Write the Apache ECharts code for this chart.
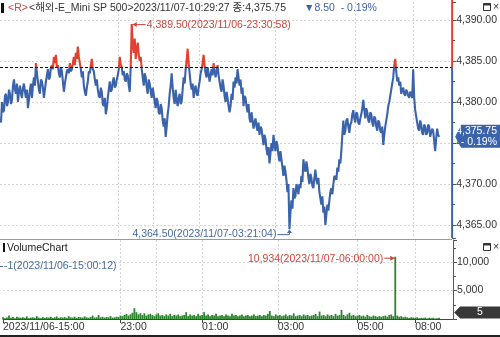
<!DOCTYPE html>
<html><head><meta charset="utf-8">
<script src="https://cdn.jsdelivr.net/npm/echarts@6/dist/echarts.min.js"></script>
<style>html,body{margin:0;padding:0;background:#fff}#c{width:500px;height:337px}</style>
</head><body><div id="c"></div>
<script>
// ---- data (price read per pixel column, alternating band top/bottom) ----
const prices = [
4378.0,4377.5,4380.0,4378.75,4379.0,4380.75,4381.0,4379.5,4380.0,4381.5,4381.0,4379.75,4380.25,4382.0,4382.75,4381.5,4381.0,4382.25,4380.0,4381.25,
4382.0,4381.0,4380.5,4381.75,4382.25,4381.25,4380.5,4381.5,4379.25,4380.25,4381.5,4382.25,4380.5,4382.0,4383.0,4382.0,4384.75,4383.5,4382.5,4381.5,
4381.0,4382.75,4382.5,4381.75,4380.5,4381.5,4382.5,4383.25,4384.0,4382.75,4383.0,4384.25,4384.5,4384.0,4385.5,4384.75,4385.75,4384.25,4384.5,4383.5,
4383.0,4384.25,4383.75,4382.5,4381.25,4382.25,4383.0,4383.75,4384.0,4383.5,4384.75,4383.75,4384.0,4384.75,4385.5,4384.5,4386.0,4385.25,4386.75,4385.5,
4384.75,4384.0,4383.0,4383.75,4382.0,4381.25,4380.75,4381.75,4382.5,4383.75,4383.5,4384.5,4385.25,4384.0,4383.75,4382.75,4382.0,4382.75,4381.5,4380.75,
4380.5,4381.75,4381.25,4379.75,4379.5,4380.5,4378.5,4379.25,4380.5,4381.5,4382.5,4381.25,4381.5,4382.5,4383.0,4381.75,4382.0,4382.75,4383.25,4384.0,
4385.5,4384.5,4384.25,4383.25,4383.75,4382.75,4382.5,4383.5,4383.25,4382.0,4381.25,4384.5,4389.5,4387.0,4386.0,4387.75,4385.25,4386.5,4387.25,4385.75,
4385.0,4385.5,4384.0,4383.0,4382.0,4383.5,4383.0,4381.75,4381.0,4382.75,4382.25,4381.25,4380.5,4381.75,4381.0,4380.0,4379.25,4380.5,4380.0,4378.75,
4378.5,4379.75,4379.25,4377.75,4377.0,4378.0,4375.75,4377.0,4378.5,4379.5,4381.0,4382.0,4383.5,4381.75,4380.5,4379.75,4381.5,4380.25,4379.5,4380.5,
4381.0,4379.75,4380.0,4381.5,4383.0,4382.25,4384.0,4385.0,4386.5,4384.75,4383.5,4382.25,4381.5,4382.25,4380.5,4381.5,4382.0,4381.0,4380.75,4381.75,
4382.5,4383.5,4384.0,4384.75,4385.75,4384.5,4383.5,4383.0,4384.25,4383.5,4382.5,4383.25,4384.0,4383.25,4384.75,4383.75,4383.0,4383.75,4384.5,4383.25,
4382.5,4381.75,4381.25,4382.75,4382.0,4380.75,4380.0,4381.25,4380.5,4379.5,4378.75,4379.5,4381.0,4380.25,4382.5,4381.75,4383.0,4382.25,4384.0,4383.0,
4382.0,4382.75,4381.0,4381.75,4379.5,4380.75,4380.5,4379.5,4378.75,4379.75,4378.0,4377.5,4378.75,4377.75,4376.75,4377.5,4378.0,4377.0,4376.5,4377.5,
4376.0,4377.0,4376.75,4375.75,4374.75,4376.0,4375.5,4374.25,4373.5,4374.5,4372.5,4373.75,4375.0,4374.0,4376.0,4374.75,4374.0,4375.25,4374.75,4373.5,
4372.75,4374.0,4373.0,4372.0,4371.0,4372.25,4371.5,4370.5,4369.0,4370.0,4364.5,4366.5,4368.0,4367.0,4369.5,4368.25,4368.5,4370.0,4369.5,4368.75,
4370.0,4369.5,4371.0,4370.25,4373.0,4372.0,4371.5,4372.75,4372.0,4370.75,4370.0,4371.25,4370.75,4369.75,4369.5,4370.75,4371.75,4370.5,4370.0,4370.75,
4369.0,4368.25,4367.5,4368.5,4366.5,4367.25,4365.0,4366.25,4367.5,4366.75,4368.0,4369.0,4369.5,4368.75,4370.0,4371.0,4371.0,4370.5,4372.0,4371.5,
4373.0,4372.5,4374.0,4376.0,4377.75,4376.0,4376.5,4377.75,4378.0,4377.0,4376.25,4377.25,4377.5,4378.5,4379.0,4378.0,4377.5,4378.75,4378.5,4377.5,
4377.25,4378.0,4378.5,4379.25,4380.25,4379.0,4378.0,4379.25,4378.75,4377.75,4377.5,4378.75,4378.5,4377.5,4377.0,4378.25,4378.0,4377.0,4376.5,4377.75,
4377.5,4376.5,4376.25,4377.0,4374.75,4376.0,4377.0,4377.75,4378.5,4379.5,4380.0,4380.75,4381.5,4382.25,4383.0,4384.5,4385.25,4383.75,4382.5,4383.0,
4382.0,4382.5,4381.0,4381.5,4381.75,4381.0,4380.75,4381.5,4381.25,4380.75,4380.5,4381.25,4381.0,4380.5,4384.0,4380.5,4379.0,4378.25,4377.5,4376.75,
4376.5,4377.75,4377.25,4376.25,4376.0,4377.25,4377.0,4376.0,4376.25,4377.25,4377.0,4375.75,4375.75,4376.75,4376.5,4375.25,4374.0,4375.5,4376.75,4376.0,
4375.75
];
const volumes = [
300,150,250,600,200,350,150,400,250,200,
300,200,450,150,250,300,200,500,250,150,
350,200,300,250,400,200,300,450,200,300,
250,350,200,500,300,250,400,200,350,300,
250,450,300,200,350,600,250,300,700,300,
400,250,350,300,500,250,300,400,350,600,
500,700,900,600,800,1100,1900,1200,800,1000,
700,1000,600,800,900,700,500,800,1000,600,
700,500,800,600,900,500,700,600,800,500,
600,700,1200,500,800,600,700,500,900,600,
700,1200,600,800,500,700,600,900,500,600,
700,500,800,600,500,900,600,700,500,600,
800,500,600,700,500,600,800,500,600,700,
500,700,600,900,1400,600,500,800,600,700,
500,600,800,500,700,600,1000,500,600,700,
500,800,600,700,500,600,700,900,500,1300,
600,700,500,800,600,700,500,900,600,700,
1600,700,500,800,1100,600,700,500,600,700,
500,600,400,700,500,400,600,500,400,500,
400,500,600,400,700,800,500,10934,600,400,
500,300,400,300,200,300,250,200,300,150,
200,150,250,100,200,150,200,100,150,200,5
];
const refPrice = 4384.25;
const lastPrice = 4375.75;
const lastChangePct = '- 0.19%';
const lastVolume = 5;
const priceMin = 4363.415, priceMax = 4392.195;
const volMax = 13860;
// volume axis slots (2 px each); price axis uses 2 slots per volume slot
const tickIndex = [0, 59, 100, 138, 178, 207];
const tickText = ['2023/11/06-15:00', '23:00', '01:00', '03:00', '05:00', '08:00'];
const vGridIndex = [59, 77, 100, 138, 178, 207];
const titleCode = '<R>';
const titleMain = '<해외-E_Mini SP 500>2023/11/07-10:29:27 종:4,375.75';
const titleChange = '▼8.50  - 0.19%';
const maxText = '4,389.50(2023/11/06-23:30:58)';
const minText = '4,364.50(2023/11/07-03:21:04)';
const volMaxText = '10,934(2023/11/07-06:00:00)';
const volMinText = '-1(2023/11/06-15:00:12)';
const NV = 227, NP = 454;
const volCategories = Array.from({length: NV}, (_, i) => String(i));
const priceCategories = Array.from({length: NP}, (_, i) => String(i));

// ---- style ----
const FONT = '"Liberation Sans", "Noto Sans CJK KR", sans-serif';
const FS = 10.5;
const RED = '#e2412f', BLUE = '#3b63ac', GREEN = '#2a862a', GRID = '#d6d6d6';
const fmtP = v => v.toLocaleString('en-US', {minimumFractionDigits: 2, maximumFractionDigits: 2});
const fmtV = v => v.toLocaleString('en-US');

const chart = echarts.init(document.getElementById('c'), null, {renderer: 'canvas'});
chart.setOption({
  animation: false,
  grid: [
    {left: 0, right: 47, top: 2, height: 236},
    {left: 0, right: 47, top: 240, height: 79}
  ],
  xAxis: [
    {gridIndex: 0, type: 'category', data: priceCategories, boundaryGap: false,
     axisLine: {show: false}, axisTick: {show: false}, axisLabel: {show: false},
     splitLine: {show: true, interval: (i) => i % 2 === 0 && vGridIndex.includes(i / 2), lineStyle: {color: GRID, type: [2, 2]}}},
    {gridIndex: 1, type: 'category', data: volCategories, boundaryGap: false,
     axisLine: {lineStyle: {color: '#444'}},
     axisTick: {show: true, interval: (i) => tickIndex.includes(i), length: 4, lineStyle: {color: '#444'}},
     axisLabel: {interval: (i) => tickIndex.includes(i), formatter: (v, i) => tickText[tickIndex.indexOf(i)] || '',
       align: 'left', color: '#333', fontSize: FS, fontFamily: FONT, margin: 3},
     splitLine: {show: true, interval: (i) => vGridIndex.includes(i), lineStyle: {color: GRID, type: [2, 2]}}}
  ],
  yAxis: [
    {gridIndex: 0, type: 'value', position: 'right', min: priceMin, max: priceMax, minInterval: 5, maxInterval: 5,
     axisLine: {show: false},
     axisTick: {show: true, length: 4, lineStyle: {color: '#555'}},
     minorTick: {show: true, splitNumber: 2, length: 3, lineStyle: {color: '#555'}},
     axisLabel: {showMinLabel: false, showMaxLabel: false, formatter: fmtP, color: '#333', fontSize: FS, fontFamily: FONT, margin: 4},
     splitLine: {show: true, showMinLine: false, showMaxLine: false, lineStyle: {color: GRID, type: [2, 2]}}},
    {gridIndex: 1, type: 'value', position: 'right', min: 0, max: volMax, minInterval: 5000, maxInterval: 5000,
     axisLine: {show: true, lineStyle: {color: '#555'}},
     axisTick: {show: true, length: 4, lineStyle: {color: '#555'}},
     minorTick: {show: true, splitNumber: 2, length: 3, lineStyle: {color: '#555'}},
     axisLabel: {showMinLabel: false, showMaxLabel: false, formatter: fmtV, color: '#333', fontSize: FS, fontFamily: FONT, margin: 4},
     splitLine: {show: true, showMinLine: false, showMaxLine: false, lineStyle: {color: GRID, type: [2, 2]}}}
  ],
  series: [
    {type: 'line', xAxisIndex: 0, yAxisIndex: 0, data: prices, symbol: 'none', showSymbol: false,
     lineStyle: {width: 2.1, color: BLUE},
     markLine: {silent: true, symbol: 'none', label: {show: false},
       lineStyle: {color: '#111', type: [3, 2], width: 1}, data: [{yAxis: refPrice}]}},
    {type: 'bar', xAxisIndex: 1, yAxisIndex: 1, data: volumes, barWidth: 1.8, itemStyle: {color: GREEN}}
  ]
});

// ---- annotations via the chart's own scales ----
const px = (g, x, y) => chart.convertToPixel({gridIndex: g}, [x, y]);
const txt = (text, x, y, fill, align) => ({type: 'text', silent: true, z: 100, style: {
  text, x, y, fill, font: FS + 'px ' + FONT, textAlign: align || 'left', align: align || 'left',
  textVerticalAlign: 'middle', verticalAlign: 'middle'}});

const iMax = prices.indexOf(Math.max(...prices));
const iMin = prices.indexOf(Math.min(...prices));
const iVMax = volumes.indexOf(Math.max(...volumes));
const pMax = px(0, iMax, prices[iMax]);
const pMin = px(0, iMin, prices[iMin]);
const pV = px(1, iVMax, volumes[iVMax]);
const pTop = px(0, NP - 1, priceMax);
const pRef = px(0, NP - 1, refPrice);
const pBot = px(0, NP - 1, priceMin);
const pLast = px(0, NP - 1, lastPrice);
const pVLast = px(1, NV - 1, lastVolume);
const axX = pTop[0];
const MIN_COL = '#4a6aa3';

// line colour: red above reference price, blue below (global gradient at the ref pixel)
const fRef = (pRef[1] - pTop[1]) / (pBot[1] - pTop[1]);
const lineGrad = new echarts.graphic.LinearGradient(0, pTop[1], 0, pBot[1], [
  {offset: 0, color: RED}, {offset: fRef, color: RED},
  {offset: fRef, color: BLUE}, {offset: 1, color: BLUE}], true);
chart.setOption({series: [{lineStyle: {color: lineGrad}}]});

const g = [];
const shape = (type, shp, style) => ({type, silent: true, z: 100, shape: shp, style});
// title
g.push(shape('rect', {x: 1, y: 3, width: 3, height: 10}, {fill: '#111'}));
g.push(txt(titleCode, 8, 8, '#d0463c'));
g.push(txt(titleMain, 29, 8, '#333'));
g.push(txt(titleChange, 304, 8, '#4262a8'));
// window buttons
[3, 243].forEach(yy => {
  g.push(shape('rect', {x: 483.5, y: yy + 0.5, width: 7, height: 7}, {fill: '#fff', stroke: '#333', lineWidth: 1}));
  g.push(shape('rect', {x: 483.5, y: yy + 0.5, width: 7, height: 2}, {fill: '#333'}));
  g.push(txt('×', 496, yy + 4, '#333', 'center'));
});
// price axis line red above ref, blue below
g.push(shape('line', {x1: axX, y1: 0, x2: axX, y2: pRef[1]}, {stroke: RED, lineWidth: 2}));
g.push(shape('line', {x1: axX, y1: pRef[1], x2: axX, y2: pBot[1]}, {stroke: BLUE, lineWidth: 2}));
// panel separator and bottom border
g.push(shape('line', {x1: 0, y1: 239.5, x2: axX, y2: 239.5}, {stroke: '#9a9a9a', lineWidth: 1}));
g.push(shape('rect', {x: 0, y: 335, width: 500, height: 2}, {fill: '#222'}));
// max annotation
g.push(shape('line', {x1: pMax[0] + 1, y1: pMax[1] + 0.5, x2: pMax[0] + 14, y2: pMax[1] + 0.5}, {stroke: '#d0463c', lineWidth: 1}));
g.push(shape('polygon', {points: [[pMax[0] + 1, pMax[1] + 0.5], [pMax[0] + 5, pMax[1] - 2], [pMax[0] + 5, pMax[1] + 3]]}, {fill: '#d0463c'}));
g.push(txt(maxText, pMax[0] + 15, pMax[1] + 1, '#d0463c'));
// min annotation
const my = pMin[1] + 5.5;
g.push(shape('polyline', {points: [[pMin[0] - 12, my], [pMin[0], my], [pMin[0], pMin[1] + 1]]}, {stroke: MIN_COL, lineWidth: 1, fill: null}));
g.push(shape('polygon', {points: [[pMin[0], pMin[1] + 0.5], [pMin[0] - 2.5, pMin[1] + 4], [pMin[0] + 2.5, pMin[1] + 4]]}, {fill: MIN_COL}));
g.push(txt(minText, pMin[0] - 13, my, MIN_COL, 'right'));
// volume max annotation
g.push(shape('line', {x1: pV[0] - 11, y1: pV[1] + 1.5, x2: pV[0] - 1, y2: pV[1] + 1.5}, {stroke: '#d0463c', lineWidth: 1}));
g.push(shape('polygon', {points: [[pV[0] - 0.5, pV[1] + 1.5], [pV[0] - 5, pV[1] - 1], [pV[0] - 5, pV[1] + 4]]}, {fill: '#d0463c'}));
g.push(txt(volMaxText, pV[0] - 12, pV[1] + 2, '#d0463c', 'right'));
// volume min annotation
g.push(shape('line', {x1: 0, y1: 266.5, x2: 3, y2: 266.5}, {stroke: MIN_COL, lineWidth: 1}));
g.push(txt(volMinText, 4, 266, MIN_COL));
// VolumeChart label
g.push(shape('rect', {x: 3, y: 243, width: 2, height: 9}, {fill: '#111'}));
g.push(txt('VolumeChart', 7, 248, '#222'));
// last price box (covers the axis label underneath)
const ly = pLast[1];
g.push(shape('polygon', {points: [[axX + 3, ly], [axX + 9, ly - 12], [500, ly - 12], [500, ly + 11], [axX + 9, ly + 11]]}, {fill: BLUE}));
g.push(txt(fmtP(lastPrice), 497, ly - 5.5, '#fff', 'right'));
g.push(txt(lastChangePct, 497, ly + 5.5, '#fff', 'right'));
// last volume box
const vy = Math.min(pVLast[1], 319 - 6.5);
g.push(shape('polygon', {points: [[axX + 2, vy], [axX + 8, vy - 6], [500, vy - 6], [500, vy + 6], [axX + 8, vy + 6]]}, {fill: '#383838'}));
g.push(txt(fmtV(lastVolume), 480, vy, '#fff', 'center'));

chart.setOption({graphic: {elements: g}});
</script></body></html>
